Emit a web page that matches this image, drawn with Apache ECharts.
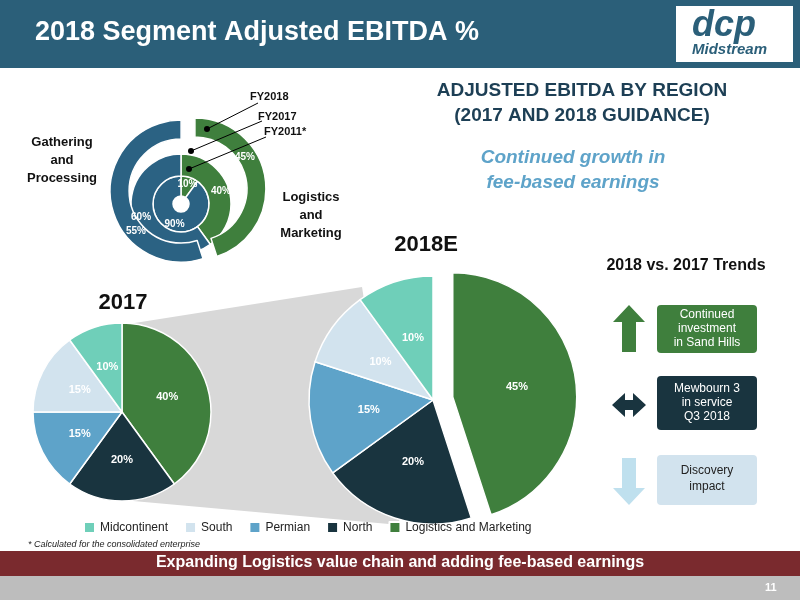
<!DOCTYPE html><html><head><meta charset="utf-8"><script src="https://cdn.jsdelivr.net/npm/echarts@6/dist/echarts.min.js"></script>
<style>html,body{margin:0;padding:0;}#c{width:800px;height:600px;}</style></head><body><div id="c"></div><script>
const regions=['Logistics and Marketing','North','Permian','South','Midcontinent'];
const legendOrder=['Midcontinent','South','Permian','North','Logistics and Marketing'];
const colors={'Logistics and Marketing':'#3f7f3d','North':'#19343f','Permian':'#5ea3c9','South':'#d2e3ee','Midcontinent':'#6fcfb9'};
const v2017=[40,20,15,15,10];
const v2018=[45,20,15,10,10];
const segNames=['Logistics and Marketing ','Gathering and Processing'];
const fy2011=[10,90], fy2017=[40,60], fy2018=[45,55];
const F='Arial, Liberation Sans, sans-serif';
const ch=echarts.init(document.getElementById('c'));
function T(x,y,text,font,fill,align,lh){return {type:'text',x:x,y:y,z:30,zlevel:1,style:{text:text,font:font,fill:fill,align:align||'left',verticalAlign:'top',lineHeight:lh}};}
function regData(vals,explode){return regions.map((n,i)=>({name:n,value:vals[i],selected:explode&&i===0,itemStyle:{color:colors[n]}}));}
function segData(vals){return vals.map((v,i)=>({name:segNames[i],value:v,itemStyle:{color:i?'#2b6283':'#3f7f3d'}}));}
const lbl={show:true,position:'inside',formatter:'{c}%',color:'#fff',fontWeight:'bold',fontSize:11,fontFamily:F,overflow:'none'};
const Z={zlevel:1,z:30};
ch.setOption({
 animation:false,backgroundColor:'#fff',
 legend:{data:legendOrder,top:516,left:78,itemWidth:11,itemHeight:11,itemGap:16,icon:'rect',textStyle:{fontFamily:F,fontSize:12,color:'#222'}},
 graphic:[
  {type:'rect',shape:{x:0,y:0,width:800,height:68},style:{fill:'#2b5f79'}},
  T(35,19,'2018 Segment Adjusted EBITDA %','bold 27px '+F,'#fff'),
  {type:'rect',shape:{x:676,y:6,width:117,height:56},style:{fill:'#fff'}},
  T(692,8,'dcp','italic bold 36px '+F,'#2b5f79'),
  T(692,42,'Midstream','italic bold 15px '+F,'#2b5f79'),
  {type:'polygon',z:-1,shape:{points:[[122,325],[362,287],[400,525],[122,500]]},style:{fill:'#d8d8d8'}},
  T(582,78,'ADJUSTED EBITDA BY REGION\n(2017 AND 2018 GUIDANCE)','bold 19px '+F,'#1d3f55','center',25),
  T(573,145,'Continued growth in\nfee-based earnings','italic bold 19px '+F,'#5ea3c9','center',25),
  T(426,234,'2018E','bold 22px '+F,'#111','center'),
  T(123,292,'2017','bold 22px '+F,'#111','center'),
  T(686,258,'2018 vs. 2017 Trends','bold 16px '+F,'#111','center'),
  T(62,133,'Gathering\nand\nProcessing','bold 13px '+F,'#111','center',18),
  T(311,188,'Logistics\nand\nMarketing','bold 13px '+F,'#111','center',18),
  T(250,91,'FY2018','bold 11px '+F,'#111'),
  T(258,111,'FY2017','bold 11px '+F,'#111'),
  T(264,126,'FY2011*','bold 11px '+F,'#111'),
  T(126,226,fy2018[1]+'%','bold 10px '+F,'#fff'),
  T(235,152,fy2018[0]+'%','bold 10px '+F,'#fff'),
  {type:'line',...Z,shape:{x1:207,y1:129,x2:258,y2:103},style:{stroke:'#000',lineWidth:1}},
  {type:'line',...Z,shape:{x1:191,y1:151,x2:262,y2:121},style:{stroke:'#000',lineWidth:1}},
  {type:'line',...Z,shape:{x1:189,y1:169,x2:266,y2:137},style:{stroke:'#000',lineWidth:1}},
  {type:'circle',...Z,shape:{cx:207,cy:129,r:3},style:{fill:'#000'}},
  {type:'circle',...Z,shape:{cx:191,cy:151,r:3},style:{fill:'#000'}},
  {type:'circle',...Z,shape:{cx:189,cy:169,r:3},style:{fill:'#000'}},
  {type:'polygon',shape:{points:[[629,305],[645,322],[636,322],[636,352],[622,352],[622,322],[613,322]]},style:{fill:'#3f7f3d'}},
  {type:'polygon',shape:{points:[[612,405],[625,393],[625,400],[633,400],[633,393],[646,405],[633,417],[633,410],[625,410],[625,417]]},style:{fill:'#19343f'}},
  {type:'polygon',shape:{points:[[629,505],[645,488],[636,488],[636,458],[622,458],[622,488],[613,488]]},style:{fill:'#bfe0ee'}},
  {type:'rect',shape:{x:657,y:305,width:100,height:48,r:4},style:{fill:'#3f7f3d'}},
  T(707,308,'Continued\ninvestment\nin Sand Hills','12px '+F,'#fff','center',14),
  {type:'rect',shape:{x:657,y:376,width:100,height:54,r:4},style:{fill:'#19343f'}},
  T(707,382,'Mewbourn 3\nin service\nQ3 2018','12px '+F,'#fff','center',14),
  {type:'rect',shape:{x:657,y:455,width:100,height:50,r:4},style:{fill:'#d2e3ee'}},
  T(707,463,'Discovery\nimpact','12px '+F,'#222','center',16),
  T(28,540,'* Calculated for the consolidated enterprise','italic 9px '+F,'#222'),
  {type:'rect',shape:{x:0,y:551,width:800,height:25},style:{fill:'#7a2a2e'}},
  T(400,555,'Expanding Logistics value chain and adding fee-based earnings','bold 16px '+F,'#fff','center'),
  {type:'rect',shape:{x:0,y:576,width:800,height:24},style:{fill:'#bdbdbd'}},
  T(765,582,'11','bold 11px '+F,'#fff')
 ],
 series:[
  {type:'pie',name:'2017',center:[122,412],radius:[0,89],startAngle:90,clockwise:true,data:regData(v2017,false),label:lbl,labelLine:{show:false},itemStyle:{borderColor:'#fff',borderWidth:1.5},emphasis:{disabled:true}},
  {type:'pie',name:'2018E',center:[433,400],radius:[0,124],startAngle:90,clockwise:true,selectedMode:'single',selectedOffset:20,data:regData(v2018,true),label:lbl,labelLine:{show:false},itemStyle:{borderColor:'#fff',borderWidth:1.5},emphasis:{disabled:true}},
  {type:'pie',name:'FY2011',center:[181,204],radius:[8,28],startAngle:90,data:segData(fy2011),label:{...lbl,fontSize:10},labelLine:{show:false},itemStyle:{borderColor:'#fff',borderWidth:1.5},emphasis:{disabled:true}},
  {type:'pie',name:'FY2017',center:[181,204],radius:[28,50],startAngle:90,data:segData(fy2017),label:{...lbl,fontSize:10},labelLine:{show:false},itemStyle:{borderColor:'#fff',borderWidth:1.5},emphasis:{disabled:true}},
  {type:'pie',name:'FY2018',center:[188,190],radius:[52,71],startAngle:90,selectedMode:'multiple',selectedOffset:7,data:segData(fy2018).map(d=>({...d,selected:true})),label:{show:false},labelLine:{show:false},itemStyle:{borderColor:'#fff',borderWidth:1.5},emphasis:{disabled:true}}
 ]
});
</script></body></html>
